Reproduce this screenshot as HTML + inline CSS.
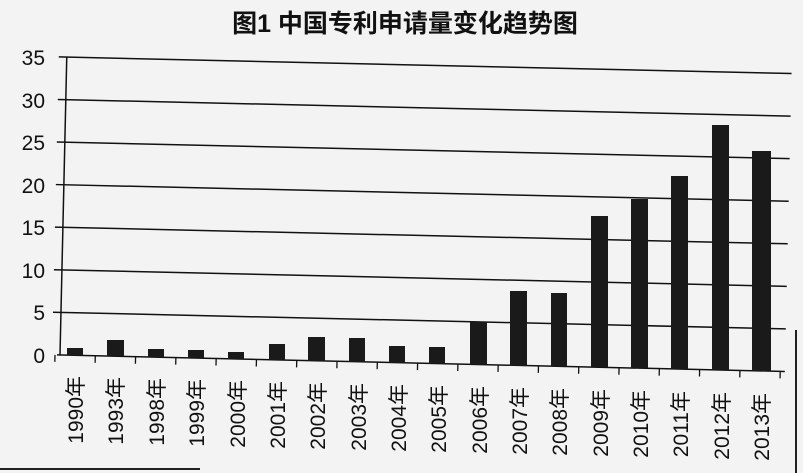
<!DOCTYPE html>
<html><head><meta charset="utf-8"><style>
html,body{margin:0;padding:0;background:#f3f3f3;}
svg{display:block}
</style></head><body>
<svg width="803" height="473" viewBox="0 0 803 473" xmlns="http://www.w3.org/2000/svg">
<rect width="803" height="473" fill="#f3f3f3"/>
<text x="405" y="32" text-anchor="middle" font-family="Liberation Sans, Noto Sans CJK SC, sans-serif" font-weight="bold" font-size="25" fill="#111">图1 中国专利申请量变化趋势图</text>
<g font-family="Liberation Sans, sans-serif" font-size="21" fill="#111" text-anchor="end">
<text x="45" y="65">35</text><text x="45" y="108">30</text><text x="45" y="150">25</text><text x="45" y="193">20</text><text x="45" y="235">15</text><text x="45" y="278">10</text><text x="45" y="320">5</text><text x="45" y="363">0</text>
</g>
<g transform="rotate(1.3 60 355)" stroke="#111" stroke-width="1.5">
<line x1="52" y1="57" x2="785" y2="57"/>
<line x1="52" y1="99.6" x2="785" y2="99.6"/>
<line x1="52" y1="142.1" x2="785" y2="142.1"/>
<line x1="52" y1="184.7" x2="785" y2="184.7"/>
<line x1="52" y1="227.3" x2="785" y2="227.3"/>
<line x1="52" y1="269.9" x2="785" y2="269.9"/>
<line x1="52" y1="312.4" x2="785" y2="312.4"/>
<line x1="57" y1="355" x2="785" y2="355"/>
<line x1="60" y1="57" x2="60" y2="355"/>
<g stroke-width="1.3">
<line x1="55" y1="355" x2="55" y2="362"/><line x1="95.3" y1="355" x2="95.3" y2="362"/><line x1="135.6" y1="355" x2="135.6" y2="362"/><line x1="175.9" y1="355" x2="175.9" y2="362"/><line x1="216.2" y1="355" x2="216.2" y2="362"/><line x1="256.5" y1="355" x2="256.5" y2="362"/><line x1="296.8" y1="355" x2="296.8" y2="362"/><line x1="337.1" y1="355" x2="337.1" y2="362"/><line x1="377.4" y1="355" x2="377.4" y2="362"/><line x1="417.7" y1="355" x2="417.7" y2="362"/><line x1="458" y1="355" x2="458" y2="362"/><line x1="498.3" y1="355" x2="498.3" y2="362"/><line x1="538.6" y1="355" x2="538.6" y2="362"/><line x1="578.9" y1="355" x2="578.9" y2="362"/><line x1="619.2" y1="355" x2="619.2" y2="362"/><line x1="659.5" y1="355" x2="659.5" y2="362"/><line x1="699.8" y1="355" x2="699.8" y2="362"/><line x1="740.1" y1="355" x2="740.1" y2="362"/><line x1="780.4" y1="355" x2="780.4" y2="362"/>
</g>
</g>
<g fill="#1a1a1a">
<rect x="67" y="348" width="16" height="7.4"/>
<rect x="107" y="340" width="17" height="16.3"/>
<rect x="148" y="349" width="16" height="8.2"/>
<rect x="188" y="350" width="16" height="8.1"/>
<rect x="228" y="352" width="16" height="7"/>
<rect x="269" y="344" width="16" height="16"/>
<rect x="308" y="337" width="17" height="23.9"/>
<rect x="349" y="338" width="16" height="23.8"/>
<rect x="389" y="346" width="16" height="16.7"/>
<rect x="429" y="347" width="16" height="16.6"/>
<rect x="470" y="322" width="17" height="42.5"/>
<rect x="510" y="291" width="17" height="74.5"/>
<rect x="551" y="293" width="16" height="73.4"/>
<rect x="591" y="216" width="17" height="151.3"/>
<rect x="631" y="199" width="17" height="169.2"/>
<rect x="671" y="176" width="17" height="193.1"/>
<rect x="712" y="125" width="17" height="245"/>
<rect x="752" y="151" width="19" height="220"/>
</g>
<g font-family="Liberation Sans, Noto Sans CJK SC, sans-serif" font-size="21" fill="#111" text-anchor="end">
<text transform="translate(83 376) rotate(-90)">1990年</text>
<text transform="translate(123 377) rotate(-90)">1993年</text>
<text transform="translate(164 378) rotate(-90)">1998年</text>
<text transform="translate(204 379) rotate(-90)">1999年</text>
<text transform="translate(245 380) rotate(-90)">2000年</text>
<text transform="translate(285 381) rotate(-90)">2001年</text>
<text transform="translate(325 382) rotate(-90)">2002年</text>
<text transform="translate(366 383) rotate(-90)">2003年</text>
<text transform="translate(406 384) rotate(-90)">2004年</text>
<text transform="translate(446 385) rotate(-90)">2005年</text>
<text transform="translate(487 386) rotate(-90)">2006年</text>
<text transform="translate(527 387) rotate(-90)">2007年</text>
<text transform="translate(567 388) rotate(-90)">2008年</text>
<text transform="translate(608 389) rotate(-90)">2009年</text>
<text transform="translate(648 390) rotate(-90)">2010年</text>
<text transform="translate(688 391) rotate(-90)">2011年</text>
<text transform="translate(729 392) rotate(-90)">2012年</text>
<text transform="translate(769 393) rotate(-90)">2013年</text>
</g>
<line x1="0" y1="469" x2="200" y2="469" stroke="#222" stroke-width="2"/>
<line x1="796" y1="330" x2="796" y2="473" stroke="#222" stroke-width="2"/>
</svg>
</body></html>
